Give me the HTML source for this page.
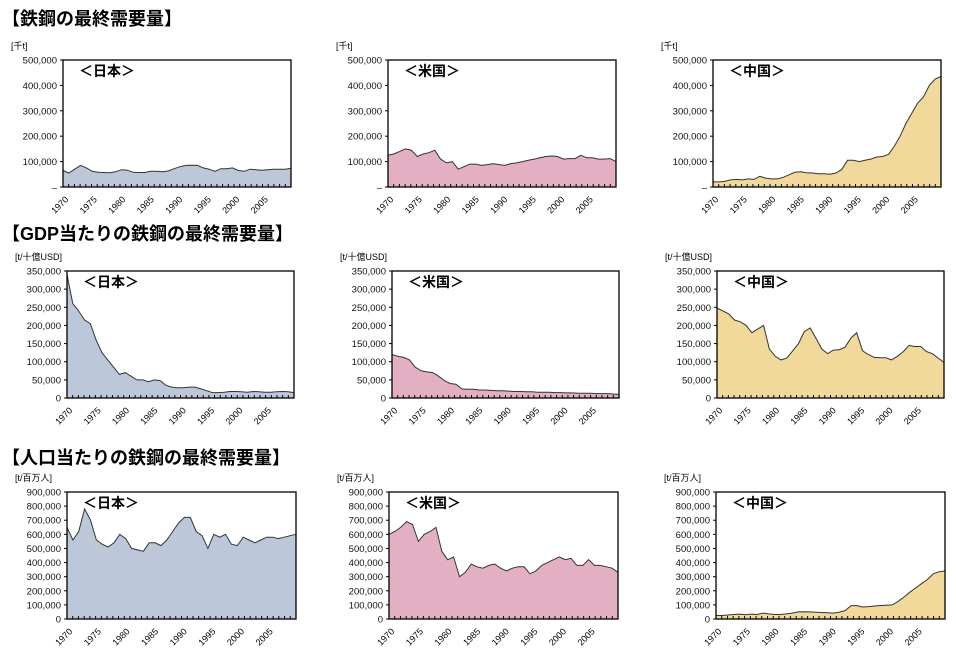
<!DOCTYPE html>
<html><head><meta charset="utf-8"><style>
body{margin:0;background:#fff;width:956px;height:656px;overflow:hidden}
svg text{font-family:"Liberation Sans","Noto Sans CJK JP",sans-serif}
</style></head><body>
<svg id="s" width="956" height="656" xmlns="http://www.w3.org/2000/svg">
<text x="2" y="25" font-size="18" font-weight="bold">【鉄鋼の最終需要量】</text>
<text x="2" y="240" font-size="18" font-weight="bold">【GDP当たりの鉄鋼の最終需要量】</text>
<text x="2" y="464" font-size="18" font-weight="bold">【人口当たりの鉄鋼の最終需要量】</text>
</svg>
<script>
const S=document.getElementById('s');let h='';
const C={j:'#bcc8d9',u:'#e3b0c3',c:'#f0d99a'};
const N={j:'＜日本＞',u:'＜米国＞',c:'＜中国＞'};
const D={
 j1:[65,55,70,85,75,62,58,57,56,60,68,66,58,57,57,62,62,60,63,72,80,85,86,85,75,70,62,72,72,75,65,62,70,68,66,68,70,70,70,74],
 u1:[125,130,140,150,145,120,130,135,145,110,95,100,70,80,90,90,85,88,92,88,85,92,95,100,105,110,115,120,122,120,110,112,112,125,115,115,110,110,112,100],
 c1:[20,20,22,28,30,28,32,30,42,35,32,32,38,48,58,60,56,55,52,52,50,55,68,105,105,100,105,110,118,120,128,160,200,250,290,330,355,400,425,435],
 j2:[340,260,240,215,205,160,125,105,85,65,70,60,50,50,45,50,48,35,30,28,28,30,30,25,20,15,15,16,18,18,17,16,18,17,16,16,17,18,17,15],
 u2:[120,115,112,105,85,75,72,70,60,48,40,38,25,24,24,22,22,21,20,20,19,18,18,17,17,16,16,16,15,15,14,14,13,13,13,12,12,12,11,10],
 c2:[248,240,232,215,210,200,180,190,200,135,115,105,110,130,150,183,193,165,135,122,132,133,140,165,180,130,120,112,111,111,105,115,128,145,142,142,128,122,110,98],
 j3:[650,560,620,780,700,560,530,510,540,600,570,500,490,480,540,540,520,560,620,680,720,720,620,590,500,600,580,600,530,520,580,560,540,560,580,580,570,580,590,600],
 u3:[600,620,650,690,670,550,600,620,650,480,420,440,300,330,390,370,360,380,390,360,340,360,370,370,320,340,380,400,420,440,420,430,380,380,420,380,380,370,360,330],
 c3:[25,25,28,32,35,30,35,32,42,36,32,32,36,42,50,52,50,48,46,44,42,48,60,95,95,85,88,92,96,98,100,125,155,190,220,250,280,320,335,340]};
const rows=[{y0:60,y1:187,max:500,step:100,unit:'[千t]',zero:'–',xs:[63,388,713],w:228},
 {y0:271,y1:398,max:350,step:50,unit:'[t/十億USD]',zero:'0',xs:[67,392,717],w:227},
 {y0:492,y1:619,max:900,step:100,unit:'[t/百万人]',zero:'0',xs:[67,389,716],w:229}];
rows.forEach((r,ri)=>{['j','u','c'].forEach((k,ci)=>{
 const x0=r.xs[ci],w=r.w,x1=x0+w,H=r.y1-r.y0,d=D[k+(ri+1)];
 const X=i=>x0+i*w/39,Y=v=>r.y1-v/r.max*H;
 h+=`<text x="${x0-52}" y="${r.y0-11}" font-size="9">${r.unit}</text>`;
 for(let v=0;v<=r.max;v+=r.step){const y=Y(v);
  h+=`<text x="${x0-6}" y="${y+3.5}" font-size="9.5" text-anchor="end" fill="#111">${v==0?r.zero:(v)+',000'}</text>`;
  h+=`<line x1="${x0-3}" x2="${x0}" y1="${y}" y2="${y}" stroke="#000"/>`;}
 let p=`M${x0},${r.y1}`;d.forEach((v,i)=>p+=`L${X(i).toFixed(1)},${Y(v).toFixed(1)}`);p+=`L${x1},${r.y1}Z`;
 h+=`<path d="${p}" fill="${C[k]}"/>`;
 let l='';d.forEach((v,i)=>l+=(i?'L':'M')+X(i).toFixed(1)+','+Y(v).toFixed(1));
 h+=`<path d="${l}" fill="none" stroke="#333" stroke-width="1"/>`;
 h+=`<rect x="${x0}" y="${r.y0}" width="${w}" height="${H}" fill="none" stroke="#000" stroke-width="1.3"/>`;
 for(let i=0;i<=40;i++){const x=x0+i*w/40;h+=`<line x1="${x}" x2="${x}" y1="${r.y1}" y2="${r.y1-3}" stroke="#000"/>`;}
 for(let yr=1970;yr<=2005;yr+=5){const x=x0+(yr-1970)*w/40;
  h+=`<text transform="translate(${x+6},${r.y1+13}) rotate(-45)" font-size="9" text-anchor="end">${yr}</text>`;}
 h+=`<text x="${x0+16}" y="${r.y0+16}" font-size="14" font-weight="bold">${N[k]}</text>`;
});});
S.insertAdjacentHTML('beforeend',h);
</script>
</body></html>
